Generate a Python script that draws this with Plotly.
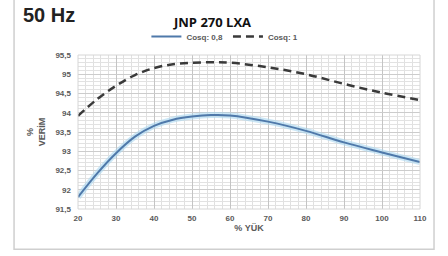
import plotly.graph_objects as go

load = [20, 25, 30, 35, 40, 45, 50, 55, 60, 70, 80, 90, 100, 110]
eff_cos08 = [91.81, 92.42, 92.95, 93.38, 93.66, 93.82, 93.9, 93.94, 93.93, 93.77, 93.53, 93.23, 92.97, 92.72]
eff_cos1 = [93.92, 94.35, 94.7, 94.98, 95.16, 95.26, 95.3, 95.31, 95.3, 95.18, 95.0, 94.75, 94.52, 94.33]

x_ticks = [20, 30, 40, 50, 60, 70, 80, 90, 100, 110]
y_ticks = [91.5, 92, 92.5, 93, 93.5, 94, 94.5, 95, 95.5]

fig = go.Figure()
fig.add_trace(go.Scatter(x=load, y=eff_cos08, mode="lines", line=dict(color="rgba(170,215,240,0.6)", width=6, shape="spline"),
                         showlegend=False, hoverinfo="skip"))
fig.add_trace(go.Scatter(x=load, y=eff_cos08, mode="lines", name="Cosq: 0,8",
                         line=dict(color="#4f79aa", width=2, shape="spline")))
fig.add_trace(go.Scatter(x=load, y=eff_cos1, mode="lines", name="Cosq: 1",
                         line=dict(color="#3a3a3a", width=2.5, dash="8px,5px", shape="spline")))

tickfont = dict(family="Liberation Sans", size=8, color="#5a5a5a", weight="bold")
fig.update_layout(
    width=448, height=256,
    margin=dict(l=78, r=28, t=55, b=47, autoexpand=False),
    paper_bgcolor="white", plot_bgcolor="white",
    separators=",.",
    showlegend=True,
    legend=dict(orientation="h", x=0.2, y=1.12, xanchor="left", yanchor="middle",
                font=dict(family="Liberation Sans", size=8, color="#5a5a5a", weight="bold"),
                itemwidth=30, bgcolor="rgba(0,0,0,0)", tracegroupgap=0),
    xaxis=dict(range=[20, 110], tickvals=x_ticks, showgrid=True, gridcolor="#c4c4c4", gridwidth=1,
               minor=dict(dtick=2, showgrid=True, gridcolor="#e0e0e0", gridwidth=1),
               zeroline=False, showline=False, ticks="", tickfont=tickfont, ticklabelstandoff=3,
               title=dict(text="% YÜK", font=dict(family="Liberation Sans", size=9, color="#5a5a5a", weight="bold"), standoff=0)),
    yaxis=dict(range=[91.5, 95.5], tickvals=y_ticks, showgrid=True, gridcolor="#cccccc", gridwidth=1,
               minor=dict(dtick=0.1, showgrid=True, gridcolor="#e2e2e2", gridwidth=1),
               zeroline=False, showline=False, ticks="", tickfont=tickfont, ticklabelstandoff=6,
               title=dict(text="%<br>VERİM", font=dict(family="Liberation Sans", size=9, color="#5a5a5a", weight="bold"), standoff=8)),
    shapes=[
        dict(type="rect", xref="paper", yref="paper", x0=-0.187, x1=1.041, y0=-0.262, y1=1.40,
             line=dict(color="#cfcfcf", width=1.5), fillcolor="rgba(0,0,0,0)", layer="below"),
        dict(type="rect", xref="paper", yref="paper", x0=0, x1=1, y0=0, y1=1,
             line=dict(color="#d6d6d6", width=1), fillcolor="rgba(0,0,0,0)"),
    ],
    annotations=[
        dict(text="<b>50 Hz</b>", xref="paper", yref="paper", x=-0.168, y=1.26, xanchor="left", yanchor="middle",
             showarrow=False, font=dict(family="Liberation Sans", size=20, color="#222222")),
        dict(text="<b>JNP 270 LXA</b>", xref="paper", yref="paper", x=0.393, y=1.217, xanchor="center", yanchor="middle",
             showarrow=False, font=dict(family="Open Sans", size=13, color="#111111")),
    ],
)

fig.write_html("out.html", config={"displayModeBar": False},
               post_script="document.body.style.margin='0px';")
